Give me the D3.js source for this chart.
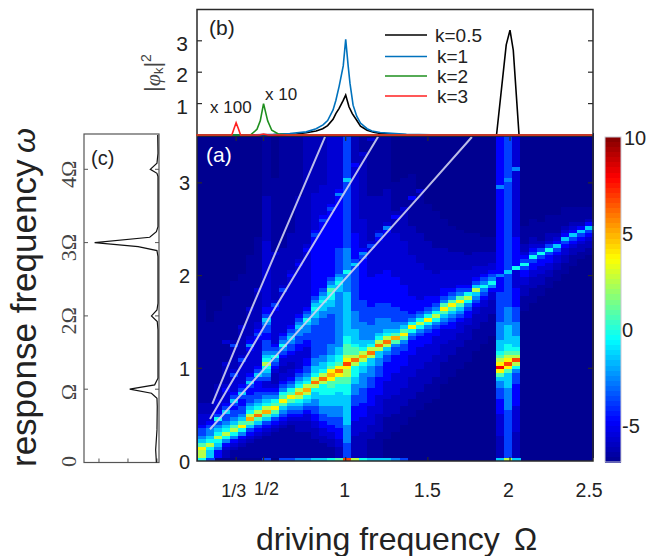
<!DOCTYPE html>
<html><head><meta charset="utf-8">
<style>html,body{margin:0;padding:0;background:#fff}svg{display:block}text{font-family:'Liberation Sans',Arial,sans-serif;fill:#222}</style>
<script src="https://cdn.jsdelivr.net/npm/d3@7"></script>
</head><body><svg id="c" width="646" height="556"></svg>
<script>
// ---------- (a) heat map: one string per driving frequency, bottom row first.
// one character per cell (index into levelValues), "c*n" repeats, last value carries to the top.
const driveFreqs=[.1,.15,.2,.25,.3,.35,.4,.45,.5,.55,.6,.65,.7,.75,.8,.85,.9,.95,1,1.05,1.1,1.15,1.2,1.25,1.3,1.35,1.4,1.45,1.5,1.55,1.6,1.65,1.7,1.75,1.8,1.85,1.9,1.95,2,2.05,2.1,2.15,2.2,2.25,2.3,2.35,2.4,2.45,2.5];
const levelValues=[-7,-6.7,-6.2,-5.7,-4.9,-3.8,-2.7,-1.5,-.4,.7,2.4,3.8,5,6,6.8,8,9,10];
const heatColumns=[
"8ab97 6 55 4 333 222 1*28 0",
"578a 876 6 54 33 222 1*22 0",
"34678 a 8765 8 54 33 3 2222 1*20 0",
"2234 68 a 87 6 55 7 543 33 4 3 22222 3 1*5 3 1*12 0",
"112346 8 a 97 6 55 4 5 7 5 4 3333 5 3 222222 5 2 1*16 0",
"1112346 8 b 97 6 55 44 5 7 5 4 333333 5 3 2222222 3 1*14 0",
"11112345 79 c a8 76 55 44 5 7 5 4 333333 4 6 4 3 2222222 3 1*14 0",
"11111234579 d a8 76 55 444 5 7 5 4 3333333 4 5 4 33 22222222 3 1*14 0",
"511111 2345 79 c a8 76 5 4 33 5678 a 87 6 555 44 55 6 7 54 4 3*18 2*12 1",
"4111111 2345 79 b 98 65 43 222 3456 8 65 4 3*9 4 5 3 2*12 3 1*20 0",
"5 1111111 234567 9 b 98 654 33 22 33 456 8 65 4 3*11 5 3 2*10 1*30",
"5 11111111 234567 9 b 98 654 33 22 33 4 55 6 7 65 4 3*13 4 3 2*10 1*30",
"6 111111 222 345678 a c a8 7654 33333 44 55 66 7 654 3*13 4 3 2*17 1*20",
"6 111111 222 33 456 78 a c a8 765 5 44 333 44 55 66 7 8 654 3*15 4 3 2*30",
"7 1111 222 33 44 55 66 77 8 a d a8 77 66 5*9 66 77 8 7 6 5 4*16 5 4 3*10 2*20",
"7 111 22 33 44 55 66 777 888 a d a 8 77 66 5*10 66 77 8 7 6 5 4*18 5 4 3*8 2*20",
"8 11 22 33 44 55 666 777 88 99 b c b 9 8 77 666 5*8 66 77 88 9 7 6 5 4*18 5 4 3*19",
"9 22 33 444 555 666 7777 88 99 b d b 9 88 77 6*15 77 8 7 6 5*7 4*14 6 4 3*15",
"e 555 66666 7*8 888 99 aa b e b a 999 88 7*12 6*5 8 6*6 5*18 7 5*12",
"a 22222 3333 4444 555 666 77 888 a d a 99 8 7777 66666 5*12 7 5 4*7 3*18 4 2*8",
"8 222222 3333 4444 5555 6666 77 8 a c a 8 77 66666 5*6 4*11 5 6 4 3*8 2*17 3 1*5",
"7 1111 2222 33333 44444 555 666 77 a d a 8 7 6666 55555 4*8 3*8 5 3 2*12 1*15 3 1",
"7 111111 22222 33333 44444 555 66 77 a d a 8 7 6666 5555 4*8 3*9 4 5 3 2*9 1*17",
"7 0000 111111 22222 33333 44444 55 67 a d a 8 7 666 5555 4*9 3*10 4 6 3 2*9 1*15",
"6 000000 11111 22222 333333 44444 55 6 9 c 9 7 66 5555 4*8 3*12 2222 4 2 1*8 0",
"5 00000000 11111 22222 333333 4444 55 6 9 b 9 7 6 555 4*7 3*12 2*8 3 1*8 0",
"4 0*10 11111 222222 333333 4444 5 6 8 b 8 6 5 44444 3*11 2*8 1*7 4 1*6 0",
"4 0*12 11111 222222 333333 444 5 6 8 a 8 6 5 444 3*10 2*8 1*11 3 0",
"2 0*14 11111 222222 33333 444 5 6 8 b 8 6 5 444 3*7 2*8 1*10 0",
"0*16 1*6 2*6 3*5 44 5 6 8 a 8 6 5 44 3*6 2*7 1*10 0",
"0*20 1*6 2*5 3*4 4 5 6 7 9 b 9 6 5 44 3*5 2*6 1*8 0",
"0*22 1*6 2*4 3*3 44 5 6 7 9 b 9 6 5 4 3*5 2*5 1*7 0",
"0*24 1*6 2*4 3*3 4 5 6 7 9 b 9 6 5 4 3*4 2*5 1*6 0",
"0*26 1*6 2*4 33 44 5 6 8 a 8 5 4 3*4 2*4 1*6 0",
"0*29 1*6 2*4 33 4 5 6 7 a 7 5 4 3*3 2*4 1*5 0",
"0*31 1*6 2*4 33 4 5 6 8 6 5 4 33 2*4 1*4 0",
"0*33 1*6 2*4 33 4 6 8 6 5 4 33 2*3 1*4 0",
"7 22222 333333 4444 555 66 7 9 b f b a 9 8 777 66666 5*8 4444 6 4*23 6 4*14",
"a 5*12 6*6 7777 9 b e b a 9 88 7*5 6*5 5*9 7 5*24 6 5*12",
"7 222222 3*7 4*6 555 6 8 a e a 9 8 777 6666 5555 4*5 3*5 8 4*8 3*18 6 3*9",
"0*40 1*4 222 33 44 5 8 5 4 3 22 1*5 0",
"0*42 1*4 222 33 44 5 8 5 4 3 22 1*5 0",
"0*44 1*3 222 33 44 5 8 5 3 2 1*5 0",
"0*46 1*3 22 33 44 5 8 5 3 22 1*5 0",
"0*48 1*3 22 33 4 5 7 4 3 2 1*5 0",
"0*50 1*3 22 33 4 5 7 4 3 2 1*5 0",
"0*52 1*3 22 3 4 5 7 4 3 2 1*4 0",
"0*54 11 22 3 4 5 7 4 2 1*4 0",
"0*55 11 22 3 4 5 7 4 2 1*3 0"
];
const rowCount=88;
// white guide lines in (a): [driving, response] points
const guide2=[[.174,.342],[1.452,2.862],[1.768,3.495]];
const guide3=[[.174,.453],[.57,1.65],[1.197,3.498]];
const guide4=[[.188,.615],[.428,1.647],[.874,3.495]];
// ---------- (b)
const b05x=[.09,.3,.6,.7,.76,.82,.86,.89,.923,.94,.96,.985,1,1.02,1.04,1.067,1.09,1.13,1.17,1.21,1.37,1.6,1.9,1.918,1.977,2,2.02,2.055,2.1,2.5];
const b05y=[0,.005,.015,.03,.07,.13,.2,.3,.5,.68,.85,1.1,1.27,.9,.68,.47,.28,.15,.09,.05,.01,0,0,0,2.87,3.34,2.7,0,0,0];
const b1x=[.09,.45,.56,.66,.76,.82,.862,.89,.923,.94,.96,.985,1,1.015,1.026,1.045,1.067,1.09,1.13,1.16,1.21,1.37,1.6,2.5];
const b1y=[0,.005,.02,.05,.1,.2,.32,.46,.8,1.1,1.55,2.2,3.05,2.2,1.65,.95,.6,.38,.2,.13,.08,.02,0,0];
const b2x=[.09,.42,.46,.48,.5,.525,.55,.59,.66,2.5];
const b2y=[0,0,.18,.45,1,.45,.15,.03,0,0];
const b3x=[.09,.307,.32,.333,.347,.36,.47,.5,.53,2.5];
const b3y=[0,0,.2,.39,.2,0,0,.03,0,0];
const legendLabels=["k=0.5","k=1","k=2","k=3"];
const legendColors=["#000","#0072BD","#1e8f1e","#ff2020"];
// ---------- (c)
const cFreq=[0,.173,.445,.764,.877,.945,1,1.059,1.15,1.809,1.923,2,2.082,2.173,2.809,2.891,2.945,3,3.073,3.15,3.218,3.9,3.945,4,4.082,4.218,4.468];
const cAmp=[.09,.115,.07,.06,.07,.26,1.01,.15,.035,.035,.06,.26,.07,.035,.035,.07,.72,2.22,.32,.09,.035,.035,.07,.3,.07,.035,.045];
const cTickLabels=["0","Ω","2Ω","3Ω","4Ω"];
const cTicks=[0,1,2,3,4];
const xTicks=[1/3,.5,1,1.5,2,2.5];
const xTickLabels=["1/3","1/2","1","1.5","2","2.5"];
const yTicks=[0,1,2,3];
const bTicks=[1,2,3];
const bTickLabels=["1","2","3"];
const cbTicks=[10,5,0,-5];

const svg=d3.select("#c");
const L=197,R=593,T=137,B=461;
const x=d3.scaleLinear([1,2],[345.7,510]);
const y=d3.scaleLinear([0,3.5],[B,T-.5]);
const jet=d3.scaleLinear([-7,-4.875,-.625,3.625,7.875,10],["#000090","#0000ff","#00ffff","#ffff00","#ff0000","#800000"]);
const expand=s=>{let o="";s.split(" ").forEach(t=>{o+=t.includes("*")?t[0].repeat(+t.slice(2)):t});return o.padEnd(rowCount,o[o.length-1]).slice(0,rowCount)};
const colBand=d3.scaleBand().domain(driveFreqs).range([L+1,R]);
const rowBand=d3.scaleBand().domain(d3.range(rowCount)).range([B,T]);
const rh=rowBand.bandwidth();
const cells=[],strip=[];
heatColumns.forEach((c,j)=>{const e=expand(c);
 for(let i=0;i<rowCount;i++){const lv=levelValues[parseInt(e[i],18)];
  if(i==0){strip.push({f:driveFreqs[j],v:lv});cells.push({f:driveFreqs[j],i,v:levelValues[parseInt(e[1],18)]})}
  else cells.push({f:driveFreqs[j],i,v:lv})}});
const defs=svg.append("defs");
defs.append("filter").attr("id","soft").attr("x",0).attr("y",0).attr("width",1).attr("height",1).append("feGaussianBlur").attr("stdDeviation",.65);
svg.append("rect").attr("x",L).attr("y",T).attr("width",R-L).attr("height",B-T).attr("fill","#000090");
const hg=svg.append("g").attr("filter","url(#soft)");
hg.append("g").attr("shape-rendering","crispEdges").selectAll("rect").data(cells).join("rect")
 .attr("x",d=>colBand(d.f)).attr("width",colBand.bandwidth()+.5)
 .attr("y",d=>rowBand(d.i)-rh).attr("height",rh+.5)
 .attr("fill",d=>jet(d.v));
hg.append("g").attr("shape-rendering","crispEdges").selectAll("rect").data(strip.filter(d=>d.v>-4)).join("rect")
 .attr("x",d=>colBand(d.f)).attr("width",colBand.bandwidth()+.5).attr("y",B-3).attr("height",3).attr("fill",d=>jet(d.v));
const ln=d3.line().x(d=>x(d[0])).y(d=>y(d[1]));
svg.append("g").selectAll("path").data([guide2,guide3,guide4]).join("path").attr("d",ln)
 .attr("fill","none").attr("stroke","#cfd0f0").attr("stroke-width",2).attr("opacity",.9);
svg.append("text").attr("x",206).attr("y",162).attr("font-size",21).style("fill","#fff").text("(a)");
// frame a
const frame="#2a2a2a";
svg.append("rect").attr("x",L).attr("y",T-1).attr("width",R-L).attr("height",B-T+1).attr("fill","none").attr("stroke",frame).attr("stroke-width",1.5);
const tick=(g,x1,y1,x2,y2)=>g.append("line").attr("x1",x1).attr("y1",y1).attr("x2",x2).attr("y2",y2).attr("stroke",frame).attr("stroke-width",1.2);
const tg=svg.append("g");
xTicks.slice(0,5).forEach(t=>{tick(tg,x(t),B,x(t),B-4);tick(tg,x(t),T,x(t),T+4)});
yTicks.slice(1).forEach(t=>{tick(tg,L,y(t),L+5,y(t));tick(tg,R,y(t),R-5,y(t))});
svg.append("g").selectAll("text").data(xTicks).join("text")
 .attr("x",(d,i)=>x(d)+[-2.5,3,-1,-.5,-1.5,-3][i]).attr("y",(d,i)=>[496.5,495,497,497,497,497][i])
 .attr("text-anchor","middle").attr("font-size",(d,i)=>i<2?18:19.5).text((d,i)=>xTickLabels[i]);
svg.append("g").selectAll("text").data(yTicks).join("text").attr("x",190).attr("y",d=>y(d)+7.5)
 .attr("text-anchor","end").attr("font-size",20).text(d=>d);
// (b)
const bTop=9.5,bBase=135;
const by=d3.scaleLinear([0,1],[bBase,bBase-31.4]);
svg.append("rect").attr("x",L).attr("y",bTop).attr("width",R-L).attr("height",bBase-bTop).attr("fill","#fff").attr("stroke",frame).attr("stroke-width",1.5);
xTicks.slice(0,5).forEach(t=>{tick(tg,x(t),bTop,x(t),bTop+7);tick(tg,x(t),bBase,x(t),bBase-5)});
const bg=svg.append("g");
bTicks.forEach(t=>{tick(bg,L,by(t),L+5,by(t));tick(bg,R,by(t),R-5,by(t))});
const bl=(xs,ys)=>d3.line().x((d,i)=>x(xs[i])).y(d=>by(d))(ys);
[[b05x,b05y,0],[b1x,b1y,1],[b2x,b2y,2],[b3x,b3y,3]].forEach(([a,b,c])=>svg.append("path").attr("d",bl(a,b)).attr("fill","none").attr("stroke",legendColors[c]).attr("stroke-width",1.6));
svg.append("g").selectAll("text").data(bTicks).join("text").attr("x",188).attr("y",d=>by(d)+10)
 .attr("text-anchor","end").attr("font-size",21).text((d,i)=>bTickLabels[i]);
const lg=svg.append("g");
[35,56.5,76,96].forEach((ly,i)=>{lg.append("line").attr("x1",385).attr("x2",427).attr("y1",ly).attr("y2",ly).attr("stroke",legendColors[i]).attr("stroke-width",1.5);
 lg.append("text").attr("x",i?437:435).attr("y",ly+6.5).attr("font-size",19).text(legendLabels[i])});
svg.append("text").attr("x",209).attr("y",35).attr("font-size",21).text("(b)");
svg.append("text").attr("x",210).attr("y",113).attr("font-size",17).text("x 100");
svg.append("text").attr("x",265).attr("y",100).attr("font-size",17).text("x 10");
const yl=svg.append("text").attr("transform","translate(160,92) rotate(-90)").attr("font-size",22).style("fill","#444");
yl.append("tspan").text("|");
yl.append("tspan").attr("font-style","italic").attr("font-family","Liberation Serif").text("φ");
yl.append("tspan").attr("font-size",13).attr("dy",3).text("k");
yl.append("tspan").attr("dy",-3).text("|");
yl.append("tspan").attr("font-size",14).attr("dy",-9).text("2");
// colorbar
const cb=d3.scaleLinear([-6.9,10],[462,137]);
svg.append("g").attr("shape-rendering","crispEdges").selectAll("rect").data(d3.range(64)).join("rect")
 .attr("x",605).attr("width",16).attr("y",d=>137+d*325/64).attr("height",325/64+.5)
 .attr("fill",d=>jet(10-(d+.5)*17/64));
svg.append("rect").attr("x",605).attr("y",137).attr("width",16).attr("height",325).attr("fill","none").attr("stroke","#c9c9d4").attr("stroke-width",1);
svg.append("g").selectAll("text").data(cbTicks).join("text").attr("x",d=>d==10?624:622).attr("y",d=>cb(d)+7.5)
 .attr("font-size",20).text(d=>d);
// (c)
const cLeft=84,cRight=159,cTop=134,cBot=462.5;
const cy=d3.scaleLinear([0,1],[cBot,cBot-73.3]);
const cx=d3.scaleLinear([0,1],[cRight,cRight-29]);
svg.append("rect").attr("x",cLeft).attr("y",cTop).attr("width",cRight-cLeft).attr("height",cBot-cTop).attr("fill","none").attr("stroke","#555").attr("stroke-width",1.2);
const cg=svg.append("g");
cTicks.slice(1).forEach(t=>{cg.append("line").attr("x1",cLeft).attr("x2",cLeft+4).attr("y1",cy(t)).attr("y2",cy(t)).attr("stroke","#555");cg.append("line").attr("x1",cRight).attr("x2",cRight-4).attr("y1",cy(t)).attr("y2",cy(t)).attr("stroke","#555")});
[.07,1.07,2.07].forEach(a=>cg.append("line").attr("x1",cx(a)).attr("x2",cx(a)).attr("y1",cBot).attr("y2",cBot-4).attr("stroke","#555"));
svg.append("path").attr("d",d3.line().x((d,i)=>cx(cAmp[i])).y(d=>cy(d))(cFreq)).attr("fill","none").attr("stroke","#111").attr("stroke-width",1.2);
svg.append("g").selectAll("text").data(cTicks).join("text")
 .attr("transform",d=>`translate(76,${cy(d)+(d==0?-1:d==1?3:5)}) rotate(-90)`).attr("text-anchor","middle")
 .attr("font-size",22).style("font-family","Liberation Serif").style("fill","#444").text((d,i)=>cTickLabels[i]);
svg.append("text").attr("x",91).attr("y",165).attr("font-size",20).text("(c)");
// titles
svg.append("text").attr("transform","translate(36,467) rotate(-90)").attr("font-size",35).text("response frequency");
svg.append("text").attr("transform","translate(35,153) rotate(-90)").attr("font-size",32).attr("font-family","Liberation Serif").attr("font-style","italic").text("ω");
svg.append("text").attr("x",256).attr("y",550).attr("font-size",32).text("driving frequency");
svg.append("text").attr("x",514).attr("y",550).attr("font-size",31).attr("font-family","Liberation Serif").text("Ω");
</script></body></html>
